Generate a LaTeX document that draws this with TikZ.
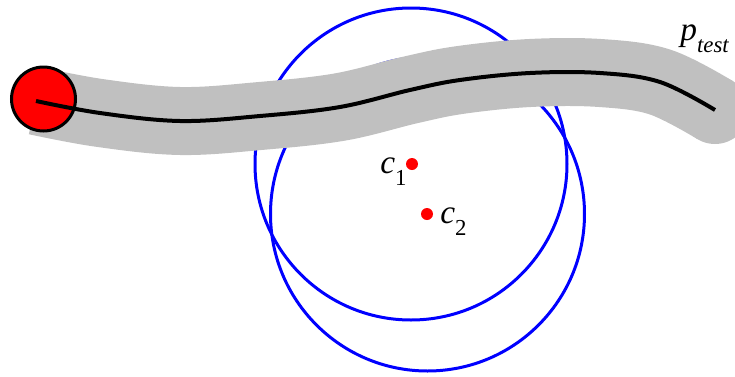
\documentclass[tikz,border=0pt]{standalone}
\usepackage{fontspec}
\newfontfamily\labelfont{LiberationSerif}[Extension=.ttf,UprightFont=*-Regular,ItalicFont=*-Italic]
\usetikzlibrary{positioning}
\definecolor{bandGray}{RGB}{192,192,192}
\definecolor{circleBlue}{RGB}{0,0,255}
\definecolor{pointRed}{RGB}{255,0,0}
\newcommand{\lowsub}[1]{\raisebox{-0.38em}{\fontsize{13}{13}\selectfont #1}}
\tikzset{
  reach circle/.style={draw=circleBlue,line width=0.06cm},
  test band/.style={draw=bandGray,line width=1.36cm,line cap=butt},
  test path/.style={draw=black,line width=0.08cm,line cap=butt},
  center dot/.style={fill=pointRed},
  label text/.style={font=\labelfont\fontsize{19}{21}\selectfont,inner sep=0pt}
}
\begin{document}
\begin{tikzpicture}[x=0.02cm,y=-0.02cm]
  \useasboundingbox (0,0) rectangle (735,376);
  % the two reach circles
  \draw[reach circle] (411,164) circle[radius=156];
  \draw[reach circle] (427.5,214) circle[radius=157];
  % test path with its band
  \draw[test band] plot[smooth,tension=0.6] coordinates {(36,101) (100,113) (180,121) (260,116) (340,107) (410,90) (460,80) (530,73) (600,73) (660,82) (715,110)};
  \fill[bandGray] (715,110) circle[radius=34];
  % start point
  \draw[fill=pointRed,draw=black,line width=0.06cm] (43.5,99) circle[radius=32];
  \draw[test path] plot[smooth,tension=0.6] coordinates {(36,101) (100,113) (180,121) (260,116) (340,107) (410,90) (460,80) (530,73) (600,73) (660,82) (715,110)};
  % centres
  \fill[center dot] (412,164) circle[radius=6];
  \fill[center dot] (427,214) circle[radius=6];
  \node[label text,anchor=base west] (c1) at (380,173) {\textit{c}\lowsub{1}};
  \node[label text,anchor=base west] (c2) at (440,223) {\textit{c}\lowsub{2}};
  \node[label text,anchor=base west] (ptest) at (680,40) {\textit{p}\lowsub{\textit{test}}};
\end{tikzpicture}
\end{document}
